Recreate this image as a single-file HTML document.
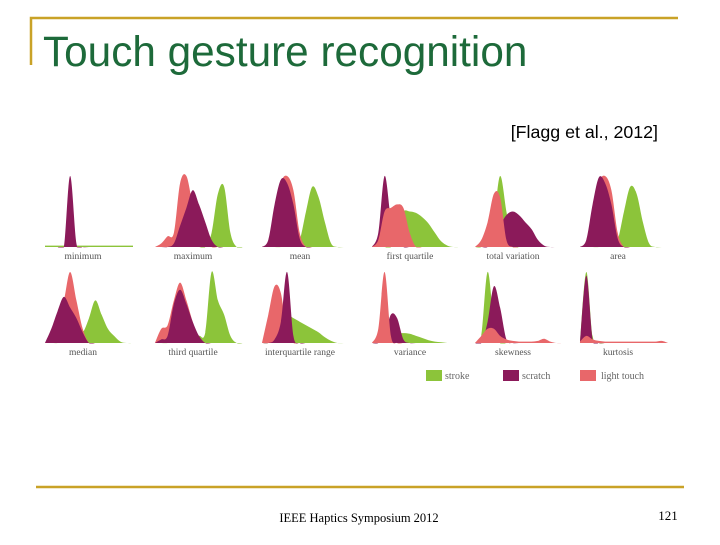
<!DOCTYPE html>
<html><head><meta charset="utf-8"><style>
body{margin:0;width:720px;height:540px;background:#fff;overflow:hidden;font-family:"Liberation Sans",sans-serif}
</style></head><body>
<svg width="720" height="540" viewBox="0 0 720 540">
<defs>
<clipPath id="row0"><rect x="0" y="150" width="720" height="97.5"/></clipPath>
<clipPath id="row1"><rect x="0" y="262" width="720" height="81.5"/></clipPath>
</defs>
<polyline points="31,65 31,18 678,18" fill="none" stroke="#c9a227" stroke-width="2.5"/>
<line x1="36" y1="487" x2="684" y2="487" stroke="#c9a227" stroke-width="2.5"/>
<text x="43" y="66" font-size="42.3" fill="#1d6a3a">Touch gesture recognition</text>
<text x="658" y="138" font-size="17.8" fill="#000" text-anchor="end">[Flagg et al., 2012]</text>
<text x="359" y="522" font-size="12.5" font-family="Liberation Serif,serif" text-anchor="middle">IEEE Haptics Symposium 2012</text>
<text x="668" y="520" font-size="13" font-family="Liberation Serif,serif" text-anchor="middle">121</text>
<g id="charts"></g>
<g>
<rect x="426" y="370" width="16" height="11" fill="#8cc43a"/>
<text x="445" y="379" font-size="10" font-family="Liberation Serif,serif" fill="#666">stroke</text>
<rect x="503" y="370" width="16" height="11" fill="#8b1a5a"/>
<text x="522" y="379" font-size="10" font-family="Liberation Serif,serif" fill="#666">scratch</text>
<rect x="580" y="370" width="16" height="11" fill="#e8676a"/>
<text x="601" y="379" font-size="10" font-family="Liberation Serif,serif" fill="#666">light touch</text>
</g>
</svg>
<script>
const panelNames=["minimum","maximum","mean","first quartile","total variation","area","median","third quartile","interquartile range","variance","skewness","kurtosis"];
const lightOnTop=[0,0,0,1,1,0,0,0,0,1,1,1];
const strokeVals=[
[0.02,0.02,0.02,0.02,0.03,0.02,0.02,0.02,0.02,0.02,0.02,0.02,0.02,0.02,0.02],
[0,0,0,0,0,0,0,0,0,0.2,0.75,0.85,0.2,0,0],
[0,0,0,0,0.03,0.05,0.1,0.5,0.85,0.7,0.35,0.05,0,0,0],
[0,0,0,0,0.3,0.5,0.5,0.48,0.42,0.33,0.2,0.08,0.02,0,0],
[0,0,0.1,0.4,1.0,0.5,0,0,0,0,0,0,0,0,0],
[0,0,0,0,0.03,0.05,0.1,0.5,0.85,0.75,0.35,0.05,0,0,0],
[0,0,0,0.02,0.08,0.18,0.15,0.35,0.6,0.4,0.2,0.1,0.02,0,0],
[0,0,0,0.03,0.05,0.08,0.03,0.1,0.15,1.0,0.6,0.4,0.1,0,0],
[0,0,0.05,0.2,0.38,0.35,0.3,0.25,0.2,0.15,0.08,0.03,0,0,0],
[0,0,0.05,0.1,0.13,0.14,0.13,0.1,0.07,0.04,0.02,0.01,0,0,0],
[0,0.1,1.0,0.3,0,0,0,0,0,0,0,0,0,0,0],
[0,1.0,0.1,0,0,0,0,0,0,0,0,0,0,0,0]];
const scratchVals=[
[0,0,0,0,1.0,0.05,0,0,0,0,0,0,0,0,0],
[0,0,0,0.05,0.3,0.55,0.8,0.6,0.35,0.1,0,0,0,0,0],
[0,0.1,0.6,0.95,0.9,0.6,0.12,0,0,0,0,0,0,0,0],
[0,0.2,1.0,0.4,0.1,0,0,0,0,0,0,0,0,0,0],
[0,0,0,0.1,0.3,0.45,0.5,0.45,0.35,0.25,0.1,0.02,0,0,0],
[0,0.1,0.6,0.98,0.9,0.6,0.12,0,0,0,0,0,0,0,0],
[0,0.2,0.45,0.65,0.5,0.35,0.15,0,0,0,0,0,0,0,0],
[0,0.05,0.1,0.55,0.75,0.55,0.3,0.1,0,0,0,0,0,0,0],
[0,0,0.05,0.3,1.0,0.1,0,0,0,0,0,0,0,0,0],
[0,0,0.1,0.4,0.35,0.05,0,0,0,0,0,0,0,0,0],
[0,0,0.3,0.8,0.5,0.05,0,0,0,0,0,0,0,0,0],
[0,0.95,0.05,0,0,0,0,0,0,0,0,0,0,0,0]];
const lightVals=[
[0,0,0,0,0.1,0,0,0,0,0,0,0,0,0,0],
[0,0.05,0.15,0.2,0.9,1.0,0.6,0.3,0.1,0,0,0,0,0,0],
[0,0.05,0.4,0.9,1.0,0.8,0.2,0,0,0,0,0,0,0,0],
[0,0.1,0.5,0.55,0.6,0.55,0.2,0,0,0,0,0,0,0,0],
[0,0.1,0.35,0.75,0.7,0.1,0,0,0,0,0,0,0,0,0],
[0,0.05,0.4,0.9,1.0,0.8,0.2,0,0,0,0,0,0,0,0],
[0,0.1,0.35,0.6,1.0,0.6,0.2,0,0,0,0,0,0,0,0],
[0,0.2,0.25,0.6,0.85,0.6,0.3,0.05,0,0,0,0,0,0,0],
[0,0.4,0.8,0.7,0.1,0,0,0,0,0,0,0,0,0,0],
[0,0.2,1.0,0.1,0,0,0,0,0,0,0,0,0,0,0],
[0,0.1,0.2,0.2,0.1,0.05,0.03,0.02,0.02,0.02,0.03,0.06,0.02,0,0],
[0.02,0.1,0.05,0.03,0.02,0.02,0.02,0.02,0.02,0.02,0.02,0.02,0.02,0.03,0]];
const colX=[45,155,262,372,475,580], rowBase=[247,343], PW=88, PH=71;
const g=document.getElementById('charts');
const NS='http://www.w3.org/2000/svg';
function xs(p,i,n){return colX[p%6]+i*PW/(n-1);}
function ys(p,v){return rowBase[Math.floor(p/6)]-v*PH;}
function area(p,vals,color,name){
  const n=vals.length;
  const pts=vals.map((v,i)=>[xs(p,i,n),ys(p,v)]);
  let d='M'+pts[0][0].toFixed(1)+','+ys(p,0)+' L'+pts[0][0].toFixed(1)+','+pts[0][1].toFixed(1);
  for(let i=0;i<n-1;i++){
    const p0=pts[Math.max(i-1,0)],p1=pts[i],p2=pts[i+1],p3=pts[Math.min(i+2,n-1)];
    const c1=[p1[0]+(p2[0]-p0[0])/6,p1[1]+(p2[1]-p0[1])/6];
    const c2=[p2[0]-(p3[0]-p1[0])/6,p2[1]-(p3[1]-p1[1])/6];
    d+=' C'+c1[0].toFixed(1)+','+c1[1].toFixed(1)+' '+c2[0].toFixed(1)+','+c2[1].toFixed(1)+' '+p2[0].toFixed(1)+','+p2[1].toFixed(1);
  }
  d+=' L'+pts[n-1][0].toFixed(1)+','+ys(p,0)+' Z';
  const e=document.createElementNS(NS,'path');
  e.setAttribute('d',d);e.setAttribute('fill',color);
  e.setAttribute('clip-path','url(#row'+Math.floor(p/6)+')');
  
  
  g.appendChild(e);
}
panelNames.forEach((nm,p)=>{
  const slug=nm.replace(/ /g,'-');
  area(p,strokeVals[p],'#8cc43a',slug+'-stroke-density');
  if(lightOnTop[p]){
    area(p,scratchVals[p],'#8b1a5a',slug+'-scratch-density');
    area(p,lightVals[p],'#e8676a',slug+'-light-touch-density');
  } else {
    area(p,lightVals[p],'#e8676a',slug+'-light-touch-density');
    area(p,scratchVals[p],'#8b1a5a',slug+'-scratch-density');
  }
  const t=document.createElementNS(NS,'text');
  t.setAttribute('x',colX[p%6]+38);t.setAttribute('y',rowBase[Math.floor(p/6)]+12);
  t.setAttribute('text-anchor','middle');t.setAttribute('font-size','9.5');t.setAttribute('fill','#555');
  t.setAttribute('font-family','Liberation Serif,serif');
  t.textContent=nm;
  
  
  g.appendChild(t);
});
</script>
</body></html>
